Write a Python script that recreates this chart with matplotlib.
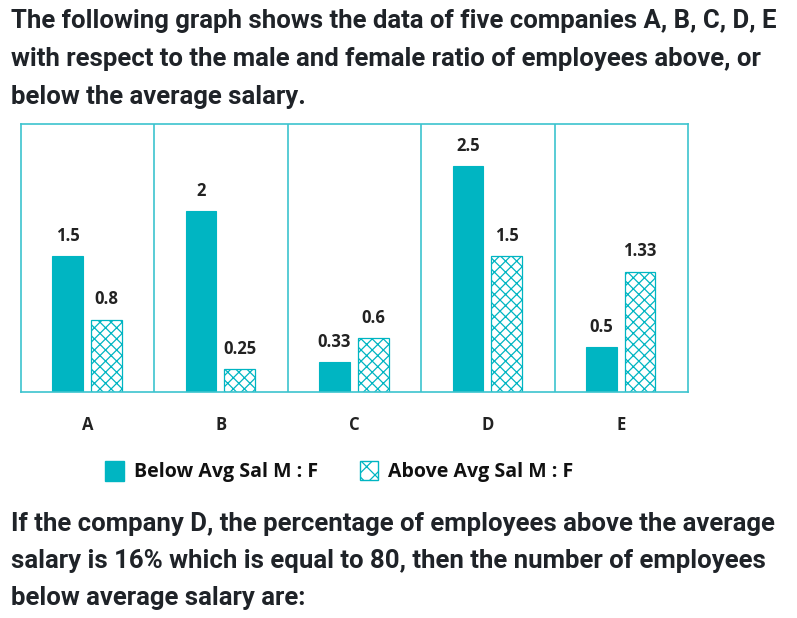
import numpy as np
import matplotlib.pyplot as plt

companies = ['A', 'B', 'C', 'D', 'E']
below_avg = [1.5, 2, 0.33, 2.5, 0.5]
above_avg = [0.8, 0.25, 0.6, 1.5, 1.33]
below_lbl = ['1.5', '2', '0.33', '2.5', '0.5']
above_lbl = ['0.8', '0.25', '0.6', '1.5', '1.33']

teal = '#00B5C2'
frame = '#3CC3CE'
plt.rcParams['hatch.color'] = teal
plt.rcParams['hatch.linewidth'] = 0.9

W, H = 797, 618
fig = plt.figure(figsize=(W / 100, H / 100), dpi=100)

head = ["The following graph shows the data of five companies A, B, C, D, E",
        "with respect to the male and female ratio of employees above, or",
        "below the average salary."]
for i, s in enumerate(head):
    fig.text(11 / W, 1 - (21 + i * 38) / H, s, fontsize=18.5, family='Roboto',
             weight='bold', color='#1f2328', va='center', ha='left')

foot = ["If the company D, the percentage of employees above the average",
        "salary is 16% which is equal to 80, then the number of employees",
        "below average salary are:"]
for i, s in enumerate(foot):
    fig.text(11 / W, 1 - (524 + i * 37) / H, s, fontsize=18.5, family='Roboto',
             weight='bold', color='#1f2328', va='center', ha='left')

ax = fig.add_axes([21 / W, 1 - 392 / H, (688 - 21) / W, (392 - 124) / H])
x = np.arange(len(companies))
bw = 0.23
ax.bar(x - 0.15, below_avg, bw, color=teal, edgecolor=teal, linewidth=0.8)
ax.bar(x + 0.14, above_avg, bw, color='white', edgecolor=teal, hatch='xxx', linewidth=0.9)

for xi, v, s in zip(x, below_avg, below_lbl):
    ax.annotate(s, (xi - 0.15, v), xytext=(0, 8), textcoords='offset points',
                ha='center', va='bottom', fontsize=12, family='Open Sans',
                weight='bold', color='#222222')
for xi, v, s in zip(x, above_avg, above_lbl):
    ax.annotate(s, (xi + 0.14, v), xytext=(0, 8), textcoords='offset points',
                ha='center', va='bottom', fontsize=12, family='Open Sans',
                weight='bold', color='#222222')

ax.set_xlim(-0.5, 4.5)
ax.set_ylim(0, 2.96)
for b in np.arange(0.5, 4.5, 1):
    ax.axvline(b, color=frame, lw=1.2)
for sp in ax.spines.values():
    sp.set_color(frame)
    sp.set_linewidth(1.2)
ax.set_yticks([])
ax.set_xticks(x)
ax.set_xticklabels(companies, fontsize=12, family='Open Sans', weight='bold', color='#222222')
ax.tick_params(axis='x', length=0, pad=17)

# legend drawn manually in figure coords
fig.patches.append(plt.Rectangle((105 / W, 1 - 481 / H), 19 / W, 20 / H, transform=fig.transFigure,
                                 facecolor=teal, edgecolor=teal))
fig.text(134 / W, 1 - 472 / H, 'Below Avg Sal M : F', fontsize=14, family='Open Sans',
         weight='bold', color='#111111', va='center')
fig.patches.append(plt.Rectangle((360 / W, 1 - 480 / H), 18 / W, 19 / H, transform=fig.transFigure,
                                 facecolor='white', edgecolor=teal, hatch='xx'))
fig.text(388 / W, 1 - 472 / H, 'Above Avg Sal M : F', fontsize=14, family='Open Sans',
         weight='bold', color='#111111', va='center')

fig.savefig('out.png', dpi=100)
